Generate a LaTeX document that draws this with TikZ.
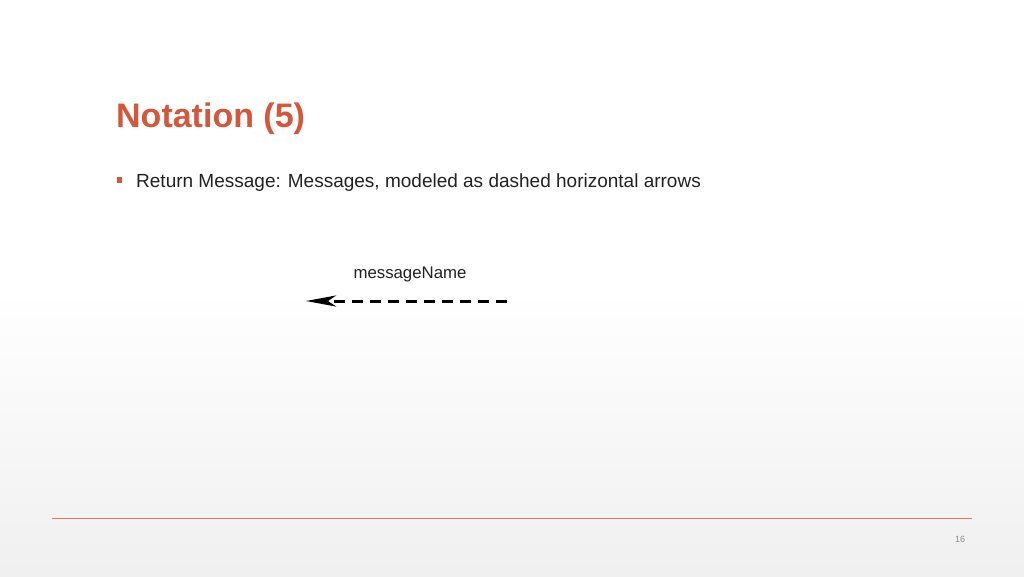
\documentclass[tikz,border=0pt]{standalone}
\usepackage{fontspec}
\setmainfont{Liberation Sans}
\usetikzlibrary{arrows.meta}
\definecolor{accent}{HTML}{D2573B}
\definecolor{bodytext}{HTML}{222222}
\tikzset{
  titletext/.style={anchor=base west, inner sep=0pt, text=accent, font=\fontsize{34}{40}\selectfont\bfseries},
  bullettext/.style={anchor=base west, inner sep=0pt, text=bodytext, font=\fontsize{19}{23}\selectfont},
  labeltext/.style={anchor=base, inner sep=0pt, text=bodytext, font=\fontsize{16.8}{20}\selectfont},
  returnmsg/.style={line width=3pt, dash pattern=on 11pt off 7pt, -{Stealth[length=30pt,width=11pt,inset=8pt]}},
}
\begin{document}
\begin{tikzpicture}[x=1pt,y=-1pt]
\useasboundingbox (0,0) rectangle (1024,576);
\fill[white] (0,0) rectangle (1024,576);
\shade[top color=white, bottom color=black!6] (0,290) rectangle (1024,576);
\node[titletext] (title) at (116,127) {Notation (5)};
\fill[accent] (116.5,176.5) rectangle (121.5,182.5);
\node[bullettext] (bullet) at (136,187) {Return Message: Messages, modeled as dashed horizontal arrows};
\node[labeltext] (lbl) at (410,278) {messageName};
\coordinate (src) at (507,301);
\coordinate (dst) at (306,301);
\draw[returnmsg] (src) -- (dst);
\draw[accent!80, line width=0.8pt] (52,518) -- (972,518);
\node[anchor=base, inner sep=0pt, text=black!45, font=\fontsize{9}{10}\selectfont] (page) at (960,542) {16};
\end{tikzpicture}
\end{document}
